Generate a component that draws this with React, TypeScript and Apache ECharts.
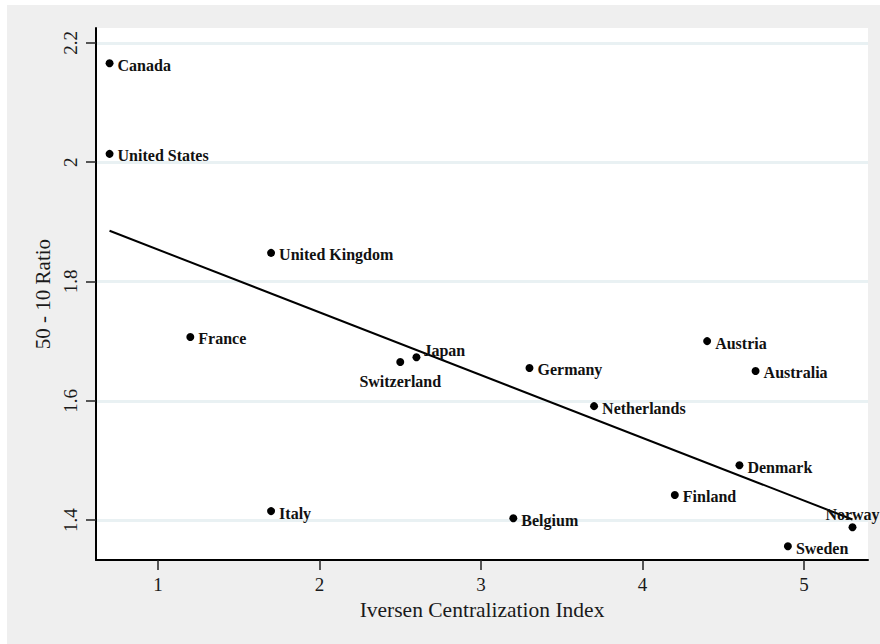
import React, { useEffect, useRef } from "react";
import * as echarts from "echarts";

const countries = [
  "Canada", "United States", "United Kingdom", "France", "Japan", "Switzerland",
  "Germany", "Netherlands", "Austria", "Australia", "Denmark", "Finland",
  "Norway", "Sweden", "Italy", "Belgium",
];
const centralization = [0.7, 0.7, 1.7, 1.2, 2.6, 2.5, 3.3, 3.7, 4.4, 4.7, 4.6, 4.2, 5.3, 4.9, 1.7, 3.2];
const ratio5010 = [2.166, 2.014, 1.848, 1.707, 1.673, 1.665, 1.655, 1.591, 1.7, 1.65, 1.492, 1.442, 1.388, 1.356, 1.415, 1.403];
const fitX = [0.7, 5.3];
const fitY = [1.885, 1.401];
const xTicks = [1, 2, 3, 4, 5];
const yTicks = [1.4, 1.6, 1.8, 2.0, 2.2];

const FONT = "'Liberation Serif', 'DejaVu Serif', serif";
const INK = "#1a1a1a";

const labelOverrides: Record<string, any> = {
  Japan: { position: "right", distance: 3, offset: [0, -7] },
  Switzerland: { position: "bottom", distance: 8, offset: [0, 0] },
  Norway: { position: "top", distance: 1, offset: [0, 0] },
};

export default function App() {
  const ref = useRef<HTMLDivElement>(null);
  useEffect(() => {
    if (!ref.current) return;
    const chart = echarts.init(ref.current, undefined, { renderer: "svg" });
    const points = countries.map((name, i) => {
      const o = labelOverrides[name];
      return {
        name,
        value: [centralization[i], ratio5010[i]],
        label: o ? { ...o } : undefined,
      };
    });
    chart.setOption({
      animation: false,
      backgroundColor: "#efefef",
      grid: {
        left: 89,
        top: 23,
        width: 772,
        height: 532,
        show: true,
        backgroundColor: "#ffffff",
        borderWidth: 0,
      },
      xAxis: {
        type: "value",
        min: 0.616,
        max: 5.396,
        name: "Iversen Centralization Index",
        nameLocation: "middle",
        nameGap: 36,
        nameTextStyle: { fontFamily: FONT, fontSize: 21.5, color: INK },
        axisLine: { show: true, lineStyle: { color: "#000", width: 2 } },
        axisTick: { show: true, length: 10, customValues: xTicks, lineStyle: { color: "#222", width: 1.5 } },
        axisLabel: { customValues: xTicks, margin: 15, fontFamily: FONT, fontSize: 19, color: INK },
        splitLine: { show: false },
      },
      yAxis: {
        type: "value",
        min: 1.333,
        max: 2.225,
        name: "50 - 10 Ratio",
        nameLocation: "middle",
        nameGap: 41,
        nameTextStyle: { fontFamily: FONT, fontSize: 21, color: INK },
        axisLine: { show: true, lineStyle: { color: "#000", width: 2 } },
        axisTick: { show: true, length: 10, customValues: yTicks, lineStyle: { color: "#222", width: 1.5 } },
        axisLabel: { customValues: yTicks, rotate: 90, margin: 16, fontFamily: FONT, fontSize: 19, color: INK },
        splitLine: { show: true, lineStyle: { color: "#e9f1f3", width: 3 } },
      },
      series: [
        {
          type: "line",
          data: fitX.map((x, i) => [x, fitY[i]]),
          symbol: "none",
          lineStyle: { color: "#000", width: 2 },
          z: 2,
          silent: true,
        },
        {
          type: "scatter",
          data: points,
          symbolSize: 8,
          itemStyle: { color: "#000", opacity: 1 },
          z: 3,
          label: {
            show: true,
            formatter: "{b}",
            position: "right",
            distance: 4,
            offset: [0, 2],
            fontFamily: FONT,
            fontSize: 16,
            fontWeight: "bold",
            color: "#111",
          },
        },
      ],
    });
    return () => chart.dispose();
  }, []);
  return (
    <div style={{ position: "fixed", left: 0, top: 0, width: 880, height: 644, background: "#fff" }}>
      <div ref={ref} style={{ position: "absolute", left: 7, top: 5, width: 873, height: 639 }} />
    </div>
  );
}
